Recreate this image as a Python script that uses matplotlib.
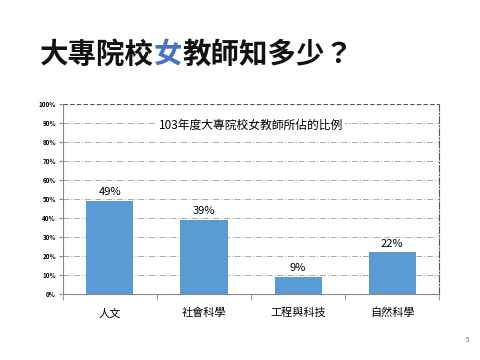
import matplotlib
matplotlib.use("Agg")
import matplotlib.pyplot as plt
import numpy as np

plt.rcParams["font.family"] = ["Noto Sans CJK TC", "DejaVu Sans"]

categories = ["人文", "社會科學", "工程與科技", "自然科學"]
values = [49, 39, 9, 22]
value_labels = ["49%", "39%", "9%", "22%"]
yticks = [0, 10, 20, 30, 40, 50, 60, 70, 80, 90, 100]
ytick_labels = ["0%", "10%", "20%", "30%", "40%", "50%", "60%", "70%", "80%", "90%", "100%"]

fig = plt.figure(figsize=(4.8, 3.6), dpi=100)
fig.patch.set_facecolor("white")

# slide title, 女 in blue
title_parts = [("大專院校", "#111111"), ("女", "#4472C4"), ("教師知多少？", "#111111")]
x0 = 0.083
for txt, col in title_parts:
    t = fig.text(x0, 0.848, txt, fontsize=20.5, color=col, weight="bold",
                 ha="left", va="center")
    fig.canvas.draw()
    bb = t.get_window_extent()
    x0 += bb.width / fig.bbox.width

ax = fig.add_axes([0.131, 0.183, 0.784, 0.528])
x = np.arange(len(categories))
ax.bar(x, values, width=0.5, color="#5B9BD5", zorder=3)
for xi, v, lab in zip(x, values, value_labels):
    ax.text(xi, v + 2, lab, ha="center", va="bottom", fontsize=8, color="black", zorder=4)

ax.set_xlim(-0.5, len(categories) - 0.5)
ax.set_ylim(0, 100)
ax.set_yticks(yticks)
ax.set_yticklabels(ytick_labels, fontsize=4.5, weight="bold")
ax.set_xticks(x)
ax.set_xticklabels(categories, fontsize=8)
ax.set_xticks(np.arange(-0.5, len(categories)), minor=True)
ax.tick_params(axis="x", which="major", length=0, pad=10)
ax.tick_params(axis="x", which="minor", length=4, color="#888888")
ax.tick_params(axis="y", length=3, color="#888888", pad=2)

for yv in yticks[1:-1]:
    ax.axhline(yv, color="#aaaaaa", lw=0.7, ls=(0, (6, 2, 1, 2)), zorder=1)
ax.axhline(100, color="#555555", lw=0.8, ls=(0, (4, 2)), zorder=1)

ax.spines["top"].set_visible(False)
ax.spines["right"].set_linestyle((0, (6, 2, 1, 2)))
ax.spines["right"].set_color("#555555")
ax.spines["right"].set_linewidth(0.8)
ax.spines["left"].set_color("#888888")
ax.spines["bottom"].set_color("#888888")

ax.text(0.5, 0.89, "103年度大專院校女教師所佔的比例", transform=ax.transAxes,
        ha="center", va="center", fontsize=8.5, zorder=5,
        bbox=dict(facecolor="white", edgecolor="none", pad=1))

fig.text(0.975, 0.055, "5", fontsize=4.5, color="#666666", ha="center", va="center")

fig.savefig("out.png", dpi=100)
